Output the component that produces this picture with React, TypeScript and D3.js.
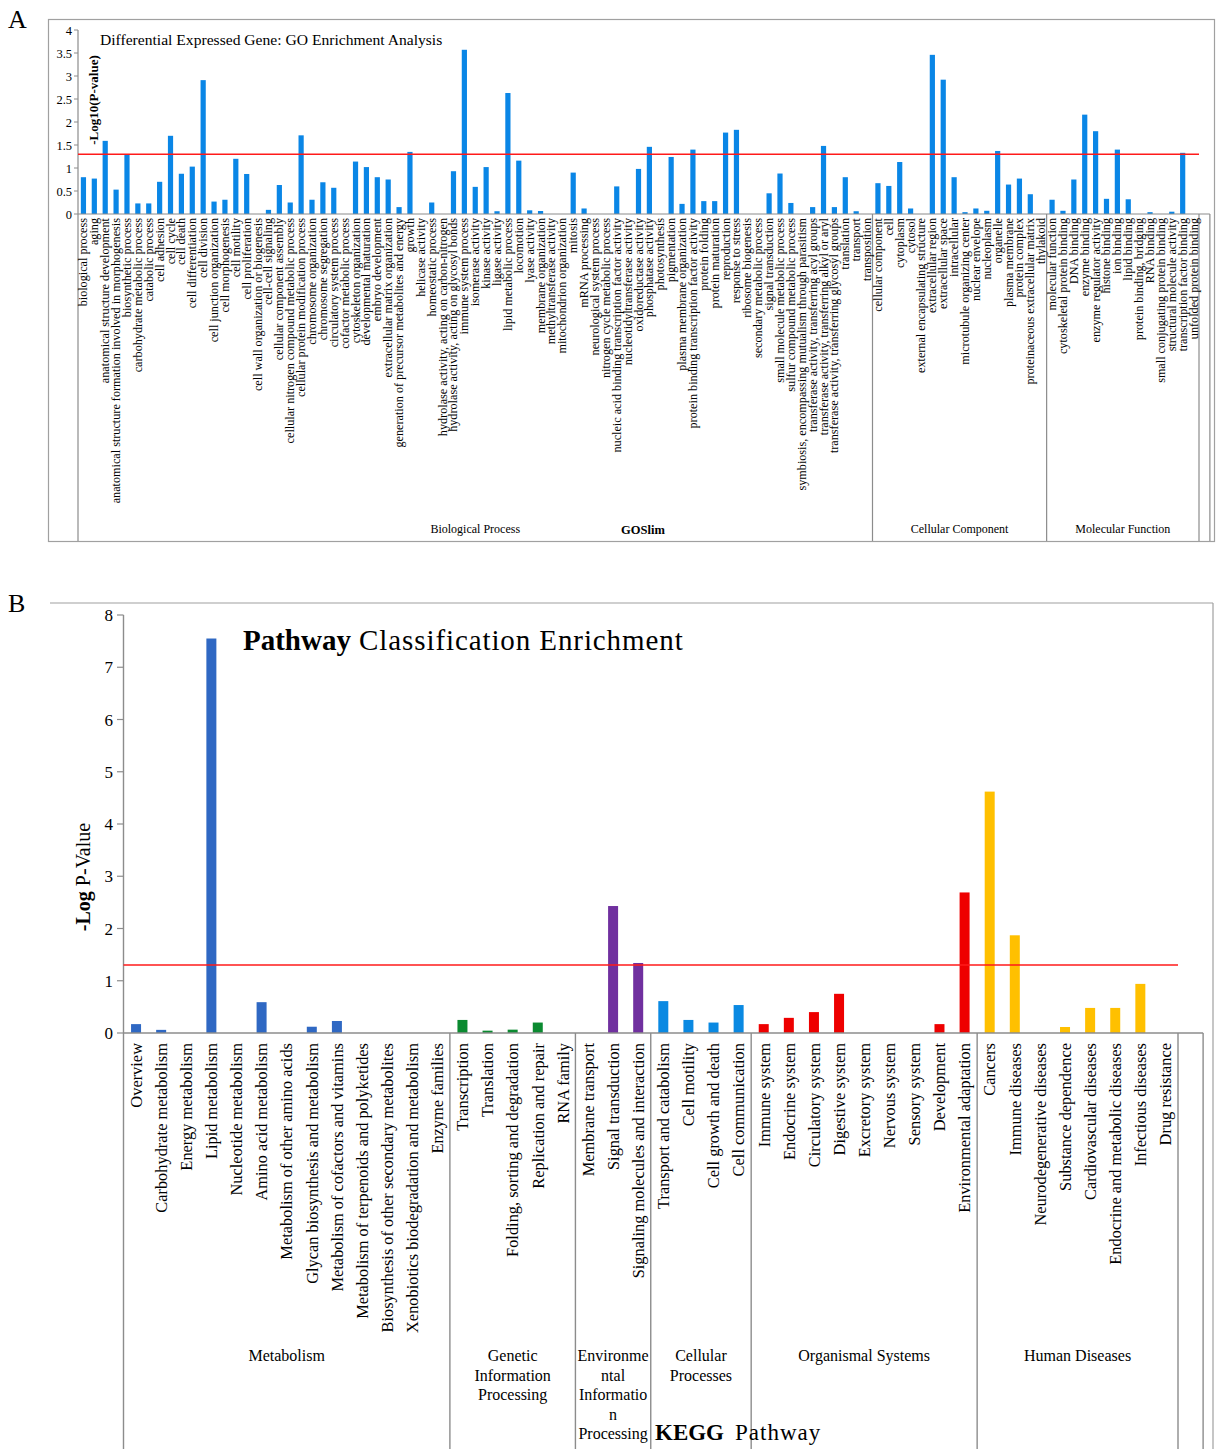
import React from 'react';
import * as d3 from 'd3';

const serif = '"Liberation Serif", "Times New Roman", serif';

// ---- Panel A: GO enrichment (-log10 p) ----
const bpTerms = [
  'biological process', 'aging', 'anatomical structure development',
  'anatomical structure formation involved in morphogenesis', 'biosynthetic process',
  'carbohydrate metabolic process', 'catabolic process', 'cell adhesion', 'cell cycle',
  'cell death', 'cell differentiation', 'cell division', 'cell junction organization',
  'cell morphogenesis', 'cell motility', 'cell proliferation',
  'cell wall organization or biogenesis', 'cell-cell signaling', 'cellular component assembly',
  'cellular nitrogen compound metabolic process', 'cellular protein modification process',
  'chromosome organization', 'chromosome segregation', 'circulatory system process',
  'cofactor metabolic process', 'cytoskeleton organization', 'developmental maturation',
  'embryo development', 'extracellular matrix organization',
  'generation of precursor metabolites and energy', 'growth', 'helicase activity',
  'homeostatic process', 'hydrolase activity, acting on carbon-nitrogen',
  'hydrolase activity, acting on glycosyl bonds', 'immune system process',
  'isomerase activity', 'kinase activity', 'ligase activity', 'lipid metabolic process',
  'locomotion', 'lyase activity', 'membrane organization', 'methyltransferase activity',
  'mitochondrion organization', 'mitosis', 'mRNA processing', 'neurological system process',
  'nitrogen cycle metabolic process', 'nucleic acid binding transcription factor activity',
  'nucleotidyltransferase activity', 'oxidoreductase activity', 'phosphatase activity',
  'photosynthesis', 'pigmentation', 'plasma membrane organization',
  'protein binding transcription factor activity', 'protein folding', 'protein maturation',
  'reproduction', 'response to stress', 'ribosome biogenesis', 'secondary metabolic process',
  'signal transduction', 'small molecule metabolic process', 'sulfur compound metabolic process',
  'symbiosis, encompassing mutualism through parasitism',
  'transferase activity, transferring acyl groups',
  'transferase activity, transferring alkyl or aryl',
  'transferase activity, transferring glycosyl groups', 'translation', 'transport',
  'transposition',
];
const bpValues = [
  0.8, 0.77, 1.59, 0.53, 1.29, 0.23, 0.23, 0.7, 1.7, 0.875, 1.03, 2.91, 0.27, 0.31, 1.2, 0.87,
  0, 0.09, 0.63, 0.25, 1.71, 0.31, 0.69, 0.57, 0, 1.14, 1.02, 0.8, 0.75, 0.15, 1.35, 0, 0.25,
  0, 0.93, 3.57, 0.59, 1.02, 0.06, 2.63, 1.16, 0.08, 0.065, 0, 0, 0.9, 0.12, 0, 0, 0.6, 0,
  0.98, 1.46, 0, 1.24, 0.22, 1.4, 0.28, 0.28, 1.77, 1.83, 0, 0, 0.45, 0.88, 0.24, 0, 0.15,
  1.48, 0.15, 0.8, 0.06, 0,
];
const ccTerms = [
  'cellular component', 'cell', 'cytoplasm', 'cytosol', 'external encapsulating structure',
  'extracellular region', 'extracellular space', 'intracellular', 'microtubule organizing center',
  'nuclear envelope', 'nucleoplasm', 'organelle', 'plasma membrane', 'protein complex',
  'proteinaceous extracellular matrix', 'thylakoid',
];
const ccValues = [0.67, 0.61, 1.13, 0.12, 0, 3.46, 2.92, 0.8, 0.04, 0.12, 0.07, 1.37, 0.64, 0.77, 0.43, 0];
const mfTerms = [
  'molecular function', 'cytoskeletal protein binding', 'DNA binding', 'enzyme binding',
  'enzyme regulator activity', 'histone binding', 'ion binding', 'lipid binding',
  'protein binding, bridging', 'RNA binding', 'small conjugating protein binding',
  'structural molecule activity', 'transcription factor binding', 'unfolded protein binding',
];
const mfValues = [0.31, 0.07, 0.75, 2.16, 1.8, 0.33, 1.4, 0.32, 0, 0.04, 0, 0.05, 1.33, 0];
const goGroupNames = ['Biological Process', 'Cellular Component', 'Molecular Function'];
const goTicks = [0, 0.5, 1, 1.5, 2, 2.5, 3, 3.5, 4];

// ---- Panel B: KEGG pathway classification ----
const metabolismTerms = [
  'Overview', 'Carbohydrate metabolism', 'Energy metabolism', 'Lipid metabolism',
  'Nucleotide metabolism', 'Amino acid metabolism', 'Metabolism of other amino acids',
  'Glycan biosynthesis and metabolism', 'Metabolism of cofactors and vitamins',
  'Metabolism of terpenoids and polyketides', 'Biosynthesis of other secondary metabolites',
  'Xenobiotics biodegradation and metabolism', 'Enzyme families',
];
const metabolismValues = [0.17, 0.06, 0, 7.55, 0, 0.59, 0, 0.12, 0.23, 0, 0, 0, 0];
const geneticTerms = ['Transcription', 'Translation', 'Folding, sorting and degradation', 'Replication and repair', 'RNA family'];
const geneticValues = [0.25, 0.045, 0.064, 0.2, 0];
const envTerms = ['Membrane transport', 'Signal transduction', 'Signaling molecules and interaction'];
const envValues = [0, 2.43, 1.34];
const cellularTerms = ['Transport and catabolism', 'Cell motility', 'Cell growth and death', 'Cell communication'];
const cellularValues = [0.61, 0.25, 0.2, 0.535];
const organismalTerms = [
  'Immune system', 'Endocrine system', 'Circulatory system', 'Digestive system',
  'Excretory system', 'Nervous system', 'Sensory system', 'Development', 'Environmental adaptation',
];
const organismalValues = [0.17, 0.29, 0.4, 0.75, 0, 0, 0, 0.17, 2.69];
const diseaseTerms = [
  'Cancers', 'Immune diseases', 'Neurodegenerative diseases', 'Substance dependence',
  'Cardiovascular diseases', 'Endocrine and metabolic diseases', 'Infectious diseases', 'Drug resistance',
];
const diseaseValues = [4.62, 1.87, 0, 0.115, 0.48, 0.48, 0.94, 0];
const keggGroupLabels = [
  ['Metabolism'],
  ['Genetic', 'Information', 'Processing'],
  ['Environme', 'ntal', 'Informatio', 'n', 'Processing'],
  ['Cellular', 'Processes'],
  ['Organismal Systems'],
  ['Human Diseases'],
];
const keggColors = ['#2f68c3', '#0b8a30', '#70309f', '#0a89e2', '#ee0000', '#ffc000'];
const keggTicks = [0, 1, 2, 3, 4, 5, 6, 7, 8];

const axisGray = '#8c8c8c';
const threshold = 1.3;

function GoPanel() {
  const groups = [
    { terms: bpTerms, values: bpValues },
    { terms: ccTerms, values: ccValues },
    { terms: mfTerms, values: mfValues },
  ];
  const terms = groups.flatMap((g) => g.terms);
  const values = groups.flatMap((g) => g.values);
  const x = d3.scaleBand<number>().domain(d3.range(terms.length)).range([78, 1199]);
  const y = d3.scaleLinear().domain([0, 4]).range([214, 30]);
  const step = x.step();
  const x0 = y(0);
  const bottom = 541;

  // group boundaries
  let start = 0;
  const spans = groups.map((g) => {
    const s = { a: x(start)!, b: x(start)! + g.terms.length * step };
    start += g.terms.length;
    return s;
  });

  return (
    <g>
      <rect x={48.5} y={19.5} width={1166} height={522} fill="none" stroke="#a0a0a0" strokeWidth={1.2} />
      <text x={8} y={28} fontFamily={serif} fontSize={26}>A</text>
      <text x={100} y={45} fontFamily={serif} fontSize={15.6}>Differential Expressed Gene: GO Enrichment Analysis</text>
      <text transform={`translate(98,100) rotate(-90)`} textAnchor="middle" fontFamily={serif} fontSize={13} fontWeight="bold">-Log10(P-value)</text>

      {/* y axis */}
      <line x1={78} x2={78} y1={y(4)} y2={bottom} stroke={axisGray} strokeWidth={1.2} />
      {goTicks.map((t) => (
        <g key={t}>
          <line x1={74} x2={78} y1={y(t)} y2={y(t)} stroke={axisGray} />
          <text x={72} y={y(t) + 4.5} textAnchor="end" fontFamily={serif} fontSize={12.5}>{String(t)}</text>
        </g>
      ))}

      {values.map((v, i) => (
        <rect key={i} x={x(i)! + step / 2 - 2.6} y={y(v)} width={5.2} height={x0 - y(v)} fill="#0a86e6" />
      ))}

      <line x1={78} x2={spans[2].b + step} y1={x0} y2={x0} stroke={axisGray} strokeWidth={1.2} />
      {[spans[1].a, spans[2].a, spans[2].b, spans[2].b + step].map((d, i) => (
        <line key={i} x1={d} x2={d} y1={x0} y2={bottom} stroke={axisGray} strokeWidth={1.2} />
      ))}
      <line x1={78} x2={spans[2].b} y1={y(threshold)} y2={y(threshold)} stroke="#ff1a1a" strokeWidth={1.5} />

      {terms.map((t, i) => (
        <text key={t} transform={`translate(${x(i)! + step / 2 + 4},218) rotate(-90)`} textAnchor="end" fontFamily={serif} fontSize={12.2}>{t}</text>
      ))}

      {goGroupNames.map((n, i) => (
        <text key={n} x={(spans[i].a + spans[i].b) / 2} y={533} textAnchor="middle" fontFamily={serif} fontSize={12}>{n}</text>
      ))}
      <text x={643} y={534} textAnchor="middle" fontFamily={serif} fontSize={12.5} fontWeight="bold">GOSlim</text>
    </g>
  );
}

function KeggPanel() {
  const groups = [
    { terms: metabolismTerms, values: metabolismValues },
    { terms: geneticTerms, values: geneticValues },
    { terms: envTerms, values: envValues },
    { terms: cellularTerms, values: cellularValues },
    { terms: organismalTerms, values: organismalValues },
    { terms: diseaseTerms, values: diseaseValues },
  ];
  const items = groups.flatMap((g, gi) => g.terms.map((t, k) => ({ term: t, value: g.values[k], group: gi })));
  const x = d3.scaleBand<number>().domain(d3.range(items.length)).range([123.5, 1178]);
  const y = d3.scaleLinear().domain([0, 8]).range([1033, 615]);
  const step = x.step();
  const x0 = y(0);
  const bottom = 1449;

  let start = 0;
  const spans = groups.map((g) => {
    const s = { a: x(start)!, b: x(start)! + g.terms.length * step };
    start += g.terms.length;
    return s;
  });
  const end = spans[spans.length - 1].b;

  return (
    <g>
      <line x1={50} x2={1213} y1={603} y2={603} stroke="#a0a0a0" strokeWidth={1.2} />
      <line x1={1213} x2={1213} y1={603} y2={bottom} stroke="#a0a0a0" strokeWidth={1.2} />
      <text x={8} y={612} fontFamily={serif} fontSize={26}>B</text>

      <text x={243} y={650} fontFamily={serif} fontSize={29}>
        <tspan fontWeight="bold">Pathway</tspan>
        <tspan letterSpacing={0.9}> Classification Enrichment</tspan>
      </text>
      <text transform={`translate(90,877) rotate(-90)`} textAnchor="middle" fontFamily={serif} fontSize={20}>
        <tspan fontWeight="bold">-Log</tspan>
        <tspan> P-Value</tspan>
      </text>

      <line x1={123.5} x2={123.5} y1={y(8)} y2={bottom} stroke={axisGray} strokeWidth={1.4} />
      {keggTicks.map((t) => (
        <g key={t}>
          <line x1={117} x2={123.5} y1={y(t)} y2={y(t)} stroke={axisGray} strokeWidth={1.2} />
          <text x={113} y={y(t) + 6} textAnchor="end" fontFamily={serif} fontSize={17}>{String(t)}</text>
        </g>
      ))}

      {items.map((d, i) => (
        <rect key={i} x={x(i)! + step / 2 - 5} y={y(d.value)} width={10} height={x0 - y(d.value)} fill={keggColors[d.group]} />
      ))}

      <line x1={123.5} x2={end + step} y1={x0} y2={x0} stroke={axisGray} strokeWidth={1.4} />
      {[...spans.slice(1).map((s) => s.a), end, end + step].map((d, i) => (
        <line key={i} x1={d} x2={d} y1={x0} y2={bottom} stroke={axisGray} strokeWidth={1.4} />
      ))}
      <line x1={123.5} x2={end} y1={y(threshold)} y2={y(threshold)} stroke="#ff1a1a" strokeWidth={1.5} />

      {items.map((d, i) => (
        <text key={d.term} transform={`translate(${x(i)! + step / 2 + 5.8},1043) rotate(-90)`} textAnchor="end" fontFamily={serif} fontSize={16.4}>{d.term}</text>
      ))}

      {keggGroupLabels.map((lines, gi) => (
        <text key={gi} x={(spans[gi].a + spans[gi].b) / 2} y={1361} textAnchor="middle" fontFamily={serif} fontSize={16}>
          {lines.map((l, k) => (
            <tspan key={k} x={(spans[gi].a + spans[gi].b) / 2} dy={k === 0 ? 0 : 19.5}>{l}</tspan>
          ))}
        </text>
      ))}
      <text x={655} y={1440} fontFamily={serif} fontSize={23}>
        <tspan fontWeight="bold">KEGG</tspan>
        <tspan x={735} letterSpacing={1}>Pathway</tspan>
      </text>
    </g>
  );
}

export default function App() {
  return (
    <svg width={1216} height={1449} viewBox="0 0 1216 1449" style={{ position: 'absolute', left: 0, top: 0, background: '#fff' }}>
      <rect width={1216} height={1449} fill="#fff" />
      <GoPanel />
      <KeggPanel />
    </svg>
  );
}
